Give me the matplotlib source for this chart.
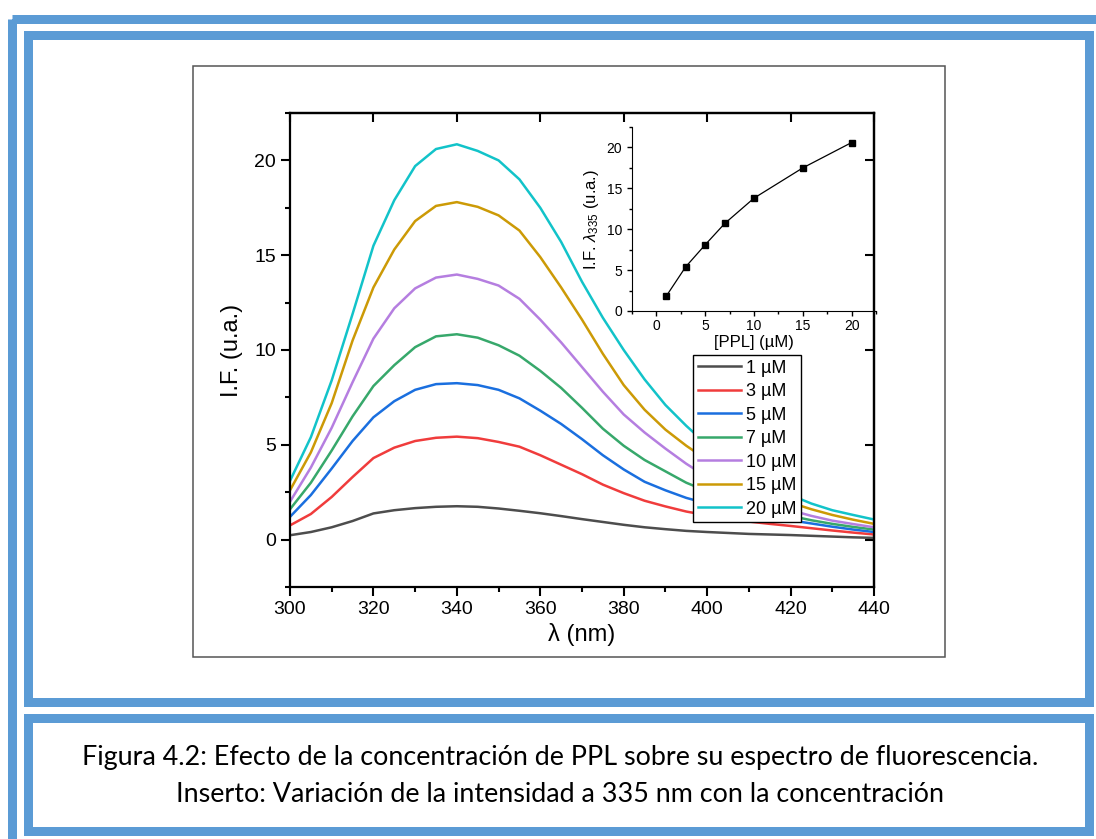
import matplotlib
matplotlib.use('Agg')
import matplotlib.pyplot as plt
from matplotlib.patches import Rectangle
from matplotlib.ticker import MultipleLocator

plt.rcParams['font.family'] = ['Liberation Sans', 'DejaVu Sans']
plt.rcParams['mathtext.fontset'] = 'custom'
plt.rcParams['mathtext.rm'] = 'Liberation Sans'
plt.rcParams['mathtext.it'] = 'Liberation Sans:italic'

# wavelengths (nm)
wl = [300, 305, 310, 315, 320, 325, 330, 335, 340, 345, 350, 355, 360, 365, 370,
      375, 380, 385, 390, 395, 400, 405, 410, 415, 420, 425, 430, 435, 440]

# emission spectra, one list per PPL concentration
s1 = [0.23, 0.40, 0.65, 0.98, 1.38, 1.55, 1.66, 1.73, 1.76, 1.73, 1.64, 1.52, 1.39, 1.24, 1.08,
      0.93, 0.78, 0.65, 0.55, 0.46, 0.40, 0.35, 0.30, 0.27, 0.24, 0.20, 0.16, 0.12, 0.09]
s3 = [0.75, 1.35, 2.25, 3.30, 4.30, 4.85, 5.20, 5.37, 5.43, 5.35, 5.15, 4.90, 4.45, 3.95, 3.45,
      2.90, 2.45, 2.05, 1.75, 1.48, 1.28, 1.10, 0.95, 0.83, 0.72, 0.60, 0.48, 0.37, 0.27]
s5 = [1.20, 2.35, 3.75, 5.20, 6.45, 7.30, 7.90, 8.20, 8.25, 8.15, 7.90, 7.45, 6.80, 6.10, 5.30,
      4.45, 3.70, 3.05, 2.60, 2.20, 1.90, 1.60, 1.38, 1.18, 1.02, 0.85, 0.68, 0.53, 0.40]
s7 = [1.60, 3.00, 4.70, 6.50, 8.10, 9.20, 10.15, 10.72, 10.83, 10.65, 10.25, 9.70, 8.90, 8.00, 6.95,
      5.85, 4.95, 4.20, 3.60, 3.00, 2.55, 2.15, 1.80, 1.50, 1.25, 1.02, 0.83, 0.67, 0.53]
s10 = [2.00, 3.80, 5.90, 8.30, 10.60, 12.20, 13.25, 13.82, 13.98, 13.75, 13.40, 12.70, 11.60, 10.40, 9.10,
       7.80, 6.60, 5.65, 4.80, 4.00, 3.30, 2.75, 2.30, 1.90, 1.55, 1.25, 1.00, 0.82, 0.65]
s15 = [2.60, 4.60, 7.20, 10.50, 13.30, 15.30, 16.80, 17.60, 17.80, 17.55, 17.10, 16.30, 14.90, 13.30, 11.60,
       9.80, 8.15, 6.85, 5.80, 4.95, 4.20, 3.50, 2.95, 2.45, 1.95, 1.60, 1.30, 1.05, 0.83]
s20 = [3.10, 5.40, 8.40, 11.90, 15.50, 17.90, 19.70, 20.60, 20.85, 20.50, 20.00, 19.00, 17.50, 15.70, 13.60,
       11.70, 10.00, 8.45, 7.10, 6.00, 5.00, 4.20, 3.50, 2.90, 2.35, 1.90, 1.55, 1.30, 1.06]

labels = ['1 µM', '3 µM', '5 µM', '7 µM', '10 µM', '15 µM', '20 µM']

# inset: intensity at 335 nm vs concentration
conc = [1, 3, 5, 7, 10, 15, 20]
i335 = [1.8, 5.4, 8.1, 10.7, 13.8, 17.5, 20.6]

caption1 = 'Figura 4.2: Efecto de la concentración de PPL sobre su espectro de fluorescencia.'
caption2 = 'Inserto: Variación de la intensidad a 335 nm con la concentración'

colors = ['#4d4d4d', '#f03c3c', '#1a6fdf', '#37a86b', '#b57ee0', '#cc9a06', '#12c3c9']
blue = '#5b9bd5'

W, H = 1096, 839
fig = plt.figure(figsize=(W / 100, H / 100), dpi=100)

# page decoration in pixel coordinates
bg = fig.add_axes([0, 0, 1, 1], zorder=-5)
bg.set_xlim(0, W)
bg.set_ylim(H, 0)
bg.axis('off')
lw_b = 9 * 0.72
bg.add_patch(Rectangle((11.5, 18.5), 1200, 1000, fill=False, ec=blue, lw=lw_b, joinstyle='miter'))
bg.add_patch(Rectangle((27.5, 34.5), 1061, 667, fill=False, ec=blue, lw=lw_b, joinstyle='miter'))
bg.add_patch(Rectangle((27.5, 717.5), 1061, 113, fill=False, ec=blue, lw=lw_b, joinstyle='miter'))
bg.add_patch(Rectangle((193, 66), 752, 591, fill=False, ec='#555555', lw=1.1))
bg.text(560, 757, caption1, ha='center', va='center', fontsize=19.4, family=['Lato', 'DejaVu Sans'])
bg.text(560, 795, caption2, ha='center', va='center', fontsize=19.4, family=['Lato', 'DejaVu Sans'])

# main axes
ax = fig.add_axes([290 / W, 1 - 587 / H, 584 / W, 474 / H])
series = [s1, s3, s5, s7, s10, s15, s20]
for s, lab, c in zip(series, labels, colors):
    ax.plot(wl, s, color=c, lw=1.8, label=lab)
ax.set_xlim(300, 440)
ax.set_ylim(-2.5, 22.5)
ax.xaxis.set_major_locator(MultipleLocator(20))
ax.xaxis.set_minor_locator(MultipleLocator(10))
ax.yaxis.set_major_locator(MultipleLocator(5))
ax.yaxis.set_minor_locator(MultipleLocator(2.5))
for sp in ax.spines.values():
    sp.set_linewidth(1.6)
ax.tick_params(which='both', direction='out', width=1.5, labelsize=14)
ax.tick_params(which='major', length=6.5)
ax.tick_params(which='minor', length=3.5)
ax.set_xlabel('λ (nm)', fontsize=17, labelpad=4)
ax.set_ylabel('I.F. (u.a.)', fontsize=17, labelpad=8)

# inward ticks on top and right
for sec in (ax.secondary_xaxis('top'), ax.secondary_yaxis('right')):
    sec.tick_params(which='both', direction='in', width=1.5, labeltop=False, labelright=False)
    sec.tick_params(which='major', length=6.5)
    sec.tick_params(which='minor', length=3.5)
    for sp in sec.spines.values():
        sp.set_linewidth(1.6)
top, right = fig.axes[-2], fig.axes[-1]
top.xaxis.set_major_locator(MultipleLocator(20))
top.xaxis.set_minor_locator(MultipleLocator(10))
right.yaxis.set_major_locator(MultipleLocator(5))
right.yaxis.set_minor_locator(MultipleLocator(2.5))

leg = fig.legend(*ax.get_legend_handles_labels(), loc='upper left',
                 bbox_to_anchor=(693 / W, 1 - 355 / H), fontsize=13, frameon=True,
                 fancybox=False, framealpha=1, edgecolor='black', borderpad=0.25,
                 labelspacing=0.36, handlelength=2.4, handletextpad=0.3, borderaxespad=0)
leg.get_frame().set_linewidth(1.0)

# inset
ins = fig.add_axes([632 / W, 1 - 311 / H, 244 / W, 184 / H], facecolor='none')
ins.plot(conc, i335, color='black', lw=0.9, marker='s', ms=5)
ins.set_xlim(-2.5, 22.5)
ins.set_ylim(0, 22.5)
ins.spines['top'].set_visible(False)
ins.spines['right'].set_visible(False)
ins.xaxis.set_major_locator(MultipleLocator(5))
ins.xaxis.set_minor_locator(MultipleLocator(2.5))
ins.yaxis.set_major_locator(MultipleLocator(5))
ins.yaxis.set_minor_locator(MultipleLocator(2.5))
ins.tick_params(which='both', direction='out', width=1.0, labelsize=10)
ins.tick_params(which='major', length=3.5)
ins.tick_params(which='minor', length=2)
ins.tick_params(axis='x', pad=2.5)
ins.set_xlabel('[PPL] (µM)', fontsize=12, labelpad=1)
ins.set_ylabel(r'I.F. $\lambda_{\mathregular{335}}$ (u.a.)', fontsize=12, labelpad=4)

fig.savefig('out.png', dpi=100)
